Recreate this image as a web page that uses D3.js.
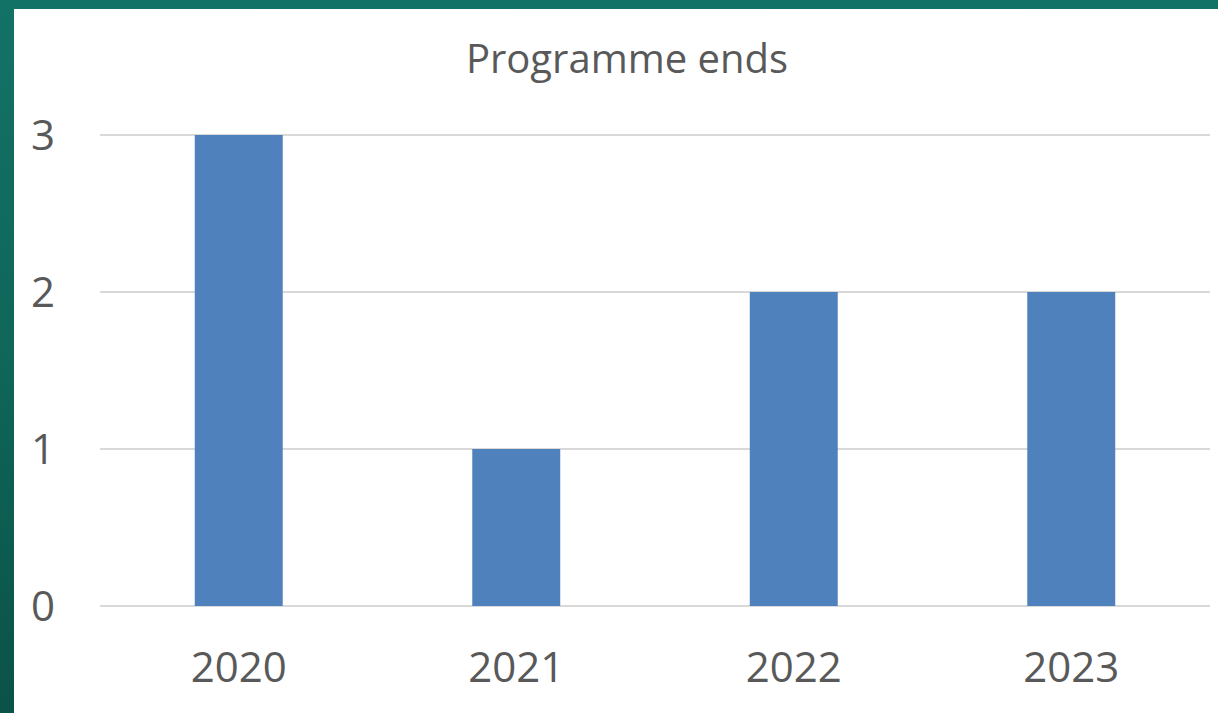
<!DOCTYPE html>
<html>
<head>
<meta charset="utf-8">
<script src="https://cdn.jsdelivr.net/npm/d3@7"></script>
<style>
  html, body { margin: 0; padding: 0; }
  body { width: 1218px; height: 713px; overflow: hidden;
         background: linear-gradient(to bottom, #137266 0%, #0f6659 50%, #0b5248 100%); }
  svg { display: block; }
</style>
</head>
<body>
<div id="chart"></div>
<script>
const years = ['2020', '2021', '2022', '2023'];
const programmeEnds = [3, 1, 2, 2];
const yTicks = [0, 1, 2, 3];

const W = 1218, H = 713;
const margin = {top: 135, right: 8, bottom: 107, left: 100};
const plotWidth = W - margin.left - margin.right;
const plotHeight = H - margin.top - margin.bottom;

let svg = d3.select('#chart').append('svg')
    .attr('width', W)
    .attr('height', H);

// white panel
svg.append('rect')
    .attr('x', 14)
    .attr('y', 9)
    .attr('width', W - 14)
    .attr('height', H - 9)
    .attr('fill', '#fff');

svg.append('text')
    .attr('x', 627)
    .attr('y', 73)
    .attr('text-anchor', 'middle')
    .attr('font-family', 'Open Sans')
    .attr('font-size', 40)
    .attr('fill', '#595959')
    .text('Programme ends');

let g = svg.append('g')
    .attr('transform', `translate(${margin.left},${margin.top})`);

const xScale = d3.scaleBand()
    .domain(years)
    .range([0, plotWidth])
    .paddingInner(0.683)
    .paddingOuter(0.3415);

const yScale = d3.scaleLinear()
    .domain([0, 3])
    .range([plotHeight, 0]);

// gridlines
g.selectAll('.grid')
    .data(yTicks)
    .enter()
    .append('line')
        .attr('x1', 0)
        .attr('x2', plotWidth)
        .attr('y1', d => yScale(d))
        .attr('y2', d => yScale(d))
        .attr('stroke', '#d9d9d9')
        .attr('stroke-width', 2);

// y labels
g.selectAll('.ylab')
    .data(yTicks)
    .enter()
    .append('text')
        .attr('x', -57)
        .attr('y', d => yScale(d))
        .attr('dy', '0.36em')
        .attr('text-anchor', 'middle')
        .attr('font-family', 'Open Sans')
        .attr('font-size', 42)
        .attr('fill', '#595959')
        .text(d => d);

// bars
g.selectAll('.bar')
    .data(programmeEnds)
    .enter()
    .append('rect')
        .attr('x', (d, i) => xScale(years[i]))
        .attr('y', d => yScale(d))
        .attr('width', xScale.bandwidth())
        .attr('height', d => plotHeight - yScale(d))
        .attr('fill', '#4f81bd');

// x labels
g.selectAll('.xlab')
    .data(years)
    .enter()
    .append('text')
        .attr('x', d => xScale(d) + xScale.bandwidth() / 2)
        .attr('y', plotHeight + 76)
        .attr('text-anchor', 'middle')
        .attr('font-family', 'Open Sans')
        .attr('font-size', 42)
        .attr('fill', '#595959')
        .text(d => d);
</script>
</body>
</html>
